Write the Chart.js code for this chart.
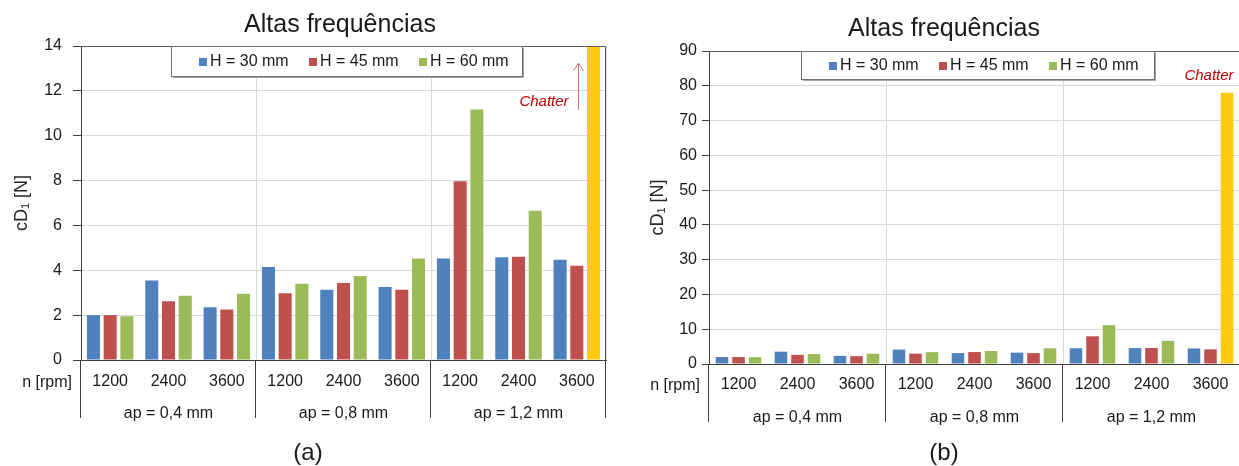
<!DOCTYPE html>
<html>
<head>
<meta charset="utf-8">
<script src="https://cdn.jsdelivr.net/npm/chart.js@4"></script>
<style>
  html, body { margin: 0; padding: 0; background: #fff; overflow: hidden; }
  #wrap { position: relative; width: 1239px; height: 466px; }
  canvas { position: absolute; top: 0; }
</style>
</head>
<body>
<div id="wrap">
  <canvas id="chartA" width="620" height="466" style="left:0;width:620px;height:466px"></canvas>
  <canvas id="chartB" width="620" height="466" style="left:620px;width:620px;height:466px"></canvas>
</div>
<script>
// data
const rpmLabels = ['1200', '2400', '3600', '1200', '2400', '3600', '1200', '2400', '3600'];
const apLabels = ['ap = 0,4 mm', 'ap = 0,8 mm', 'ap = 1,2 mm'];
const seriesNames = ['H = 30 mm', 'H = 45 mm', 'H = 60 mm'];
const h30 = [2.0, 3.55, 2.35, 4.15, 3.13, 3.26, 4.52, 4.58, 4.47];
const h45 = [2.0, 2.62, 2.25, 2.98, 3.43, 3.13, 7.97, 4.6, 4.2];
const h60 = [1.95, 2.86, 2.95, 3.4, 3.74, 4.52, 11.17, 6.66, 78];
const chatterIdx = 8;
const yTicksA = [0, 2, 4, 6, 8, 10, 12, 14];
const yTicksB = [0, 10, 20, 30, 40, 50, 60, 70, 80, 90];

const colors = ['#4f81bd', '#c0504d', '#9bbb59'];
const chatterColor = '#ffc90e';
const FONT = "'Liberation Sans', Arial, sans-serif";
const TXT = '#1a1a1a';
const AXIS = '#404040';

const decor = {
  id: 'decor',
  afterDraw(chart, args, p) {
    const { ctx, chartArea: a, scales: { x } } = chart;
    ctx.save();

    // frame top + right
    ctx.strokeStyle = '#595959';
    ctx.lineWidth = 1;
    ctx.beginPath();
    ctx.moveTo(a.left, a.top + 0.5);
    ctx.lineTo(a.right - 0.5, a.top + 0.5);
    ctx.lineTo(a.right - 0.5, a.bottom);
    ctx.stroke();

    // group separators below the axis
    const half = (x.getPixelForValue(1) - x.getPixelForValue(0)) / 2;
    ctx.strokeStyle = AXIS;
    ctx.beginPath();
    [0, 3, 6, 9].forEach(i => {
      const px = Math.round(i < 9 ? x.getPixelForValue(i) - half : x.getPixelForValue(8) + half) - 0.5;
      ctx.moveTo(px, a.bottom);
      ctx.lineTo(px, p.sepBottom);
    });
    ctx.stroke();

    // legend box
    const b = p.legend;
    ctx.fillStyle = '#fff';
    ctx.fillRect(b.x, b.y, b.w, b.h);
    ctx.strokeStyle = '#a6a6a6';
    ctx.beginPath();
    ctx.moveTo(b.x + b.w + 1.5, b.y + 2);
    ctx.lineTo(b.x + b.w + 1.5, b.y + b.h + 1.5);
    ctx.lineTo(b.x + 2, b.y + b.h + 1.5);
    ctx.stroke();
    ctx.strokeStyle = '#6f6f6f';
    ctx.strokeRect(b.x + 0.5, b.y + 0.5, b.w, b.h);
    ctx.font = '16px ' + FONT;
    ctx.textBaseline = 'middle';
    ctx.textAlign = 'left';
    chart.data.datasets.forEach((ds, i) => {
      const lx = b.x + 28 + i * 110;
      const cy = b.y + b.h / 2 + 1;
      ctx.fillStyle = colors[i];
      ctx.fillRect(lx, cy - 4, 8, 8);
      ctx.fillStyle = TXT;
      ctx.fillText(ds.label, lx + 11, cy);
    });

    // texts
    ctx.textBaseline = 'alphabetic';
    ctx.textAlign = 'center';
    ctx.fillStyle = TXT;
    ctx.font = '25px ' + FONT;
    ctx.fillText('Altas frequências', p.titleX, p.titleY);
    ctx.font = '24px ' + FONT;
    ctx.fillText(p.panel, p.titleX - p.panelShift, 460);

    ctx.font = '16px ' + FONT;
    ctx.textAlign = 'right';
    ctx.fillText('n [rpm]', a.left - 9, p.rpmY);

    ctx.fillStyle = '#c00000';
    ctx.font = 'italic 15px ' + FONT;
    ctx.textAlign = 'center';
    ctx.fillText('Chatter', p.chatX, p.chatY);

    if (p.arrow) {
      ctx.strokeStyle = '#d77070';
      ctx.beginPath();
      ctx.moveTo(p.arrow.x, p.arrow.y1);
      ctx.lineTo(p.arrow.x, p.arrow.y0);
      ctx.moveTo(p.arrow.x - 5, p.arrow.y0 + 8);
      ctx.lineTo(p.arrow.x, p.arrow.y0);
      ctx.lineTo(p.arrow.x + 5, p.arrow.y0 + 8);
      ctx.stroke();
    }
    ctx.restore();
  }
};

function build(id, yTicks, p) {
  return new Chart(document.getElementById(id), {
    type: 'bar',
    data: {
      labels: rpmLabels,
      datasets: [
        { label: seriesNames[0], data: h30, backgroundColor: colors[0], xAxisID: 'x' },
        { label: seriesNames[1], data: h45, backgroundColor: colors[1], xAxisID: 'x' },
        { label: seriesNames[2], data: h60, xAxisID: 'x',
          backgroundColor: h60.map((v, i) => i === chatterIdx ? chatterColor : colors[2]) },
      ],
    },
    options: {
      responsive: false,
      animation: false,
      layout: { padding: { top: p.top, right: p.right, left: 0, bottom: p.bottom } },
      datasets: { bar: { categoryPercentage: p.cat, barPercentage: p.bar, borderWidth: 0 } },
      scales: {
        x: {
          type: 'category',
          position: 'bottom',
          weight: 0,
          grid: { display: true, drawOnChartArea: false, drawTicks: false },
          border: { display: true, color: AXIS },
          ticks: { font: { family: FONT, size: 16 }, color: TXT, padding: p.rpmPad, maxRotation: 0, autoSkip: false },
          afterFit: s => { s.height = 34; s.paddingLeft = 0; s.paddingRight = 0; },
        },
        x2: {
          type: 'category',
          labels: apLabels,
          position: 'bottom',
          weight: 1,
          offset: true,
          grid: { offset: true, drawOnChartArea: true, drawTicks: false, color: '#d9d9d9' },
          border: { display: false },
          ticks: { font: { family: FONT, size: 16 }, color: TXT, padding: p.apPad, maxRotation: 0 },
          afterFit: s => { s.height = 40; s.paddingLeft = 0; s.paddingRight = 0; },
        },
        y: {
          min: yTicks[0],
          max: yTicks[yTicks.length - 1],
          ticks: { stepSize: yTicks[1] - yTicks[0], font: { family: FONT, size: 16 }, color: TXT, padding: p.yPad },
          grid: { color: '#d9d9d9', tickColor: AXIS, tickLength: p.tickLen },
          border: { display: true, color: AXIS },
          title: { display: true, text: 'cD₁ [N]', color: '#262626', font: { family: FONT, size: 18 },
                   padding: { top: p.titlePad, bottom: 0 } },
          afterFit: s => { s.width = p.yWidth; s.paddingTop = 0; s.paddingBottom = 0; },
        },
      },
      plugins: { legend: { display: false }, tooltip: { enabled: false }, decor: p },
    },
    plugins: [decor],
  });
}

build('chartA', yTicksA, {
  top: 46, right: 14, bottom: 32, yWidth: 81, tickLen: 8, yPad: 11, titlePad: 11,
  cat: 0.86, bar: 0.78, rpmPad: 12, apPad: 10, sepBottom: 418,
  legend: { x: 171, y: 46, w: 351, h: 30 },
  titleX: 340, titleY: 32, panel: '(a)', panelShift: 32, rpmY: 387,
  chatX: 544, chatY: 106, arrow: { x: 578.5, y0: 63, y1: 110 },
});

build('chartB', yTicksB, {
  top: 51, right: 0, bottom: 28, yWidth: 89, tickLen: 7, yPad: 5, titlePad: 27,
  cat: 0.84, bar: 0.76, rpmPad: 11, apPad: 10, sepBottom: 422,
  legend: { x: 181, y: 51, w: 353, h: 28 },
  titleX: 324, titleY: 36, panel: '(b)', panelShift: 0, rpmY: 390,
  chatX: 589, chatY: 80, arrow: null,
});
</script>
</body>
</html>
